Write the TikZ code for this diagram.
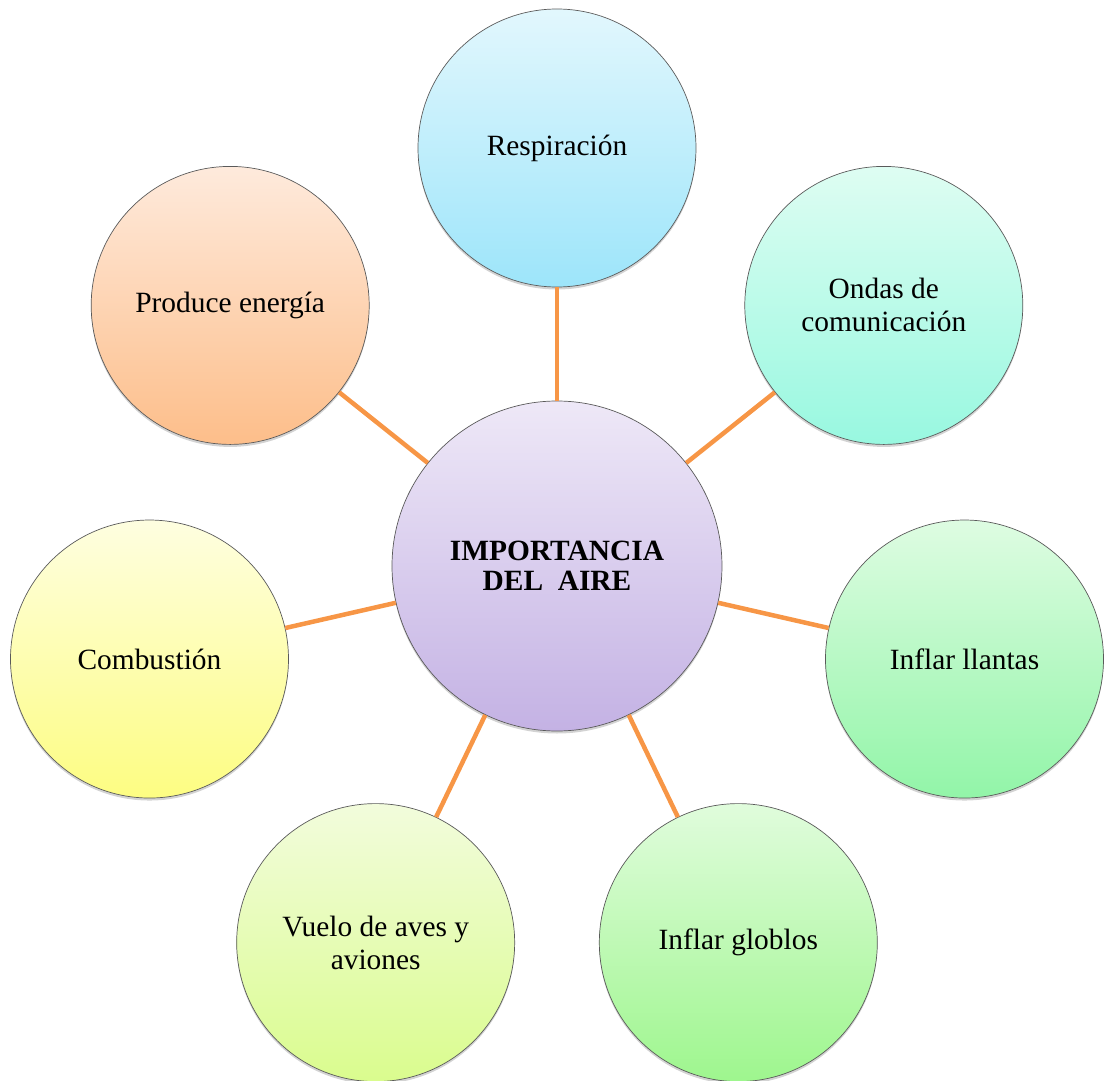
\documentclass[tikz,border=0pt]{standalone}
\usepackage{fontspec}
\setmainfont{Liberation Serif}
\usetikzlibrary{shadows}
\usetikzlibrary{backgrounds}

\definecolor{linea}{RGB}{247,150,70}
\definecolor{bordeg}{RGB}{90,90,90}

\begin{document}
\begin{tikzpicture}[x=1pt, y=1pt]
	\useasboundingbox (-557,566) rectangle (547,-514);

	\begin{scope}[every node/.style={circle, draw=bordeg, line width=0.7pt,
	              minimum size=278pt, align=center,
	              font=\fontsize{29.4}{33}\selectfont,
	              drop shadow={shadow xshift=0pt, shadow yshift=-2.5pt, opacity=0.35}}]
		\node[minimum size=330pt, top color={rgb,255:red,238;green,232;blue,247},
		      bottom color={rgb,255:red,196;green,178;blue,228},
		      font=\fontsize{29.4}{30}\selectfont\bfseries] (centro) at (0,0) {IMPORTANCIA\\DEL\ \ AIRE};
		\node[top color={rgb,255:red,226;green,247;blue,253},
		      bottom color={rgb,255:red,157;green,229;blue,250}] (resp) at (90:418) {Respiración};
		\node[top color={rgb,255:red,222;green,253;blue,242},
		      bottom color={rgb,255:red,152;green,248;blue,224}] (ondas) at (38.57:418) {Ondas de\\comunicación};
		\node[top color={rgb,255:red,222;green,252;blue,226},
		      bottom color={rgb,255:red,146;green,245;blue,168}] (llantas) at (-12.86:418) {Inflar llantas};
		\node[top color={rgb,255:red,224;green,252;blue,220},
		      bottom color={rgb,255:red,158;green,246;blue,142}] (globos) at (-64.29:418) {Inflar globlos};
		\node[top color={rgb,255:red,242;green,252;blue,220},
		      bottom color={rgb,255:red,218;green,252;blue,142}] (vuelo) at (-115.71:418) {Vuelo de aves y\\aviones};
		\node[top color={rgb,255:red,254;green,254;blue,224},
		      bottom color={rgb,255:red,253;green,253;blue,130}] (combustion) at (-167.14:418) {Combustión};
		\node[top color={rgb,255:red,254;green,234;blue,220},
		      bottom color={rgb,255:red,253;green,190;blue,138}] (energia) at (141.43:418) {Produce energía};
	\end{scope}

	\begin{scope}[every edge/.style={draw=linea, line width=4.5pt}]
		\path (centro) edge (resp);
		\path (centro) edge (ondas);
		\path (centro) edge (llantas);
		\path (centro) edge (globos);
		\path (centro) edge (vuelo);
		\path (centro) edge (combustion);
		\path (centro) edge (energia);
	\end{scope}
\end{tikzpicture}
\end{document}
